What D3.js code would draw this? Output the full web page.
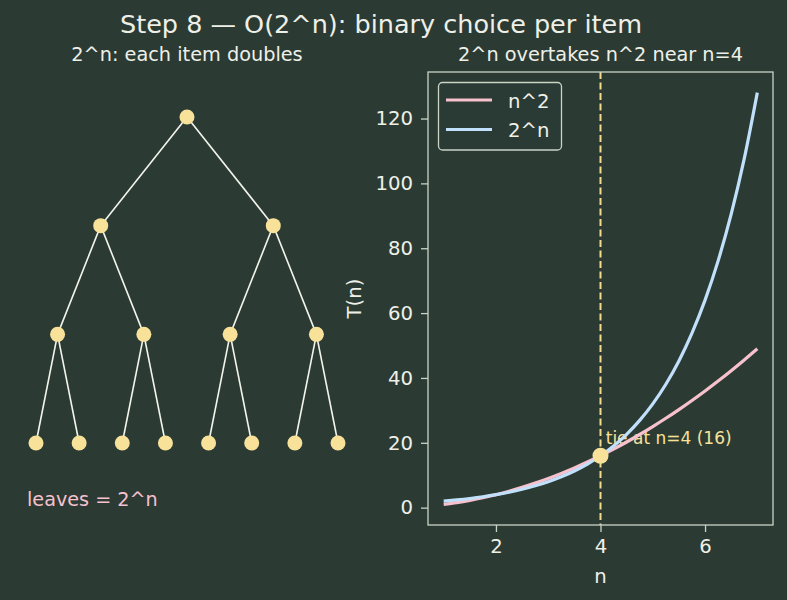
<!DOCTYPE html>
<html><head><meta charset="utf-8">
<script src="https://cdn.jsdelivr.net/npm/d3@7"></script>
<style>
html,body{margin:0;padding:0;background:#2b3b34;}
svg{display:block;font-family:"DejaVu Sans",sans-serif;}
</style></head>
<body><svg id="c" width="787" height="600"></svg>
<script>
// ---- data ----
const title = "Step 8 \u2014 O(2^n): binary choice per item";
const leftTitle = "2^n: each item doubles";
const rightTitle = "2^n overtakes n^2 near n=4";
const nValues = [1,1.25,1.5,1.75,2,2.25,2.5,2.75,3,3.25,3.5,3.75,4,4.25,4.5,4.75,5,5.25,5.5,5.75,6,6.25,6.5,6.75,7];
const quadValues = [1,1.56,2.25,3.06,4,5.06,6.25,7.56,9,10.56,12.25,14.06,16,18.06,20.25,22.56,25,27.56,30.25,33.06,36,39.06,42.25,45.56,49];
const expValues = [2,2.38,2.83,3.36,4,4.76,5.66,6.73,8,9.51,11.31,13.45,16,19.03,22.63,26.91,32,38.06,45.25,53.82,64,76.11,90.51,107.63,128];
const seriesNames = ["n^2","2^n"];
const xTicks = [2,4,6];
const yTicks = [0,20,40,60,80,100,120];
const tieN = 4, tieValue = 16;
const tieLabel = "tie at n=4 (16)";
const leavesLabel = "leaves = 2^n";
// tree nodes: [position, depth]
const treeNodes = [[3.5,0],[1.5,1],[5.5,1],[0.5,2],[2.5,2],[4.5,2],[6.5,2],[0,3],[1,3],[2,3],[3,3],[4,3],[5,3],[6,3],[7,3]];
// edges as index pairs into treeNodes
const treeEdges = [[0,1],[0,2],[1,3],[1,4],[2,5],[2,6],[3,7],[3,8],[4,9],[4,10],[5,11],[5,12],[6,13],[6,14]];

// ---- style ----
const BG="#2b3b34", FG="#eef0e8", SPINE="#c9d3c6", PINK="#f7c1cd", BLUE="#c1e0fb", YEL="#f8e29a", DASH="#f3dc8c";

const svg = d3.select("#c");
svg.append("rect").attr("width",787).attr("height",600).attr("fill",BG);

svg.append("text").attr("x",381).attr("y",33).attr("text-anchor","middle")
  .attr("fill",FG).attr("font-size",25.5).text(title);

// ---- left: tree ----
svg.append("text").attr("x",187).attr("y",61).attr("text-anchor","middle")
  .attr("fill",FG).attr("font-size",19.3).text(leftTitle);
const tx = d3.scaleLinear().domain([0,7]).range([36,338]);
const ty = d3.scaleLinear().domain([0,3]).range([117,443]);
const gT = svg.append("g");
gT.selectAll("line").data(treeEdges).join("line")
  .attr("x1",d=>tx(treeNodes[d[0]][0])).attr("y1",d=>ty(treeNodes[d[0]][1]))
  .attr("x2",d=>tx(treeNodes[d[1]][0])).attr("y2",d=>ty(treeNodes[d[1]][1]))
  .attr("stroke","#f3f5ec").attr("stroke-width",1.6);
gT.selectAll("circle").data(treeNodes).join("circle")
  .attr("cx",d=>tx(d[0])).attr("cy",d=>ty(d[1])).attr("r",7.5).attr("fill",YEL);
svg.append("text").attr("x",27).attr("y",506).attr("fill",PINK).attr("font-size",19.2).text(leavesLabel);

// ---- right: chart ----
const L=428, R=773, T=72, B=525;
const xMin=d3.min(nValues), xMax=d3.max(nValues);
const yMin=d3.min(quadValues.concat(expValues)), yMax=d3.max(quadValues.concat(expValues));
const x = d3.scaleLinear().domain([xMin-(xMax-xMin)*0.05, xMax+(xMax-xMin)*0.05]).range([L,R]);
const y = d3.scaleLinear().domain([yMin-(yMax-yMin)*0.05, yMax+(yMax-yMin)*0.05]).range([B,T]);

svg.append("text").attr("x",(L+R)/2).attr("y",61).attr("text-anchor","middle")
  .attr("fill",FG).attr("font-size",19.3).text(rightTitle);

const defs = svg.append("defs");
defs.append("clipPath").attr("id","clip").append("rect").attr("x",L).attr("y",T).attr("width",R-L).attr("height",B-T);

const gx = svg.append("g").attr("transform",`translate(0,${B})`)
  .call(d3.axisBottom(x).tickValues(xTicks).tickSize(7).tickPadding(6).tickFormat(d3.format("d")));
const gy = svg.append("g").attr("transform",`translate(${L},0)`)
  .call(d3.axisLeft(y).tickValues(yTicks).tickSize(7).tickPadding(8).tickFormat(d3.format("d")));
[gx,gy].forEach(g=>{
  g.select(".domain").remove();
  g.selectAll(".tick line").attr("stroke",SPINE).attr("stroke-width",1.3);
  g.selectAll(".tick text").attr("fill",FG).attr("font-size",19.7).attr("font-family","DejaVu Sans");
});
gx.selectAll(".tick text").attr("dy","0.78em");
svg.append("text").attr("x",(L+R)/2).attr("y",583).attr("text-anchor","middle").attr("fill",FG).attr("font-size",19.7).text("n");
svg.append("text").attr("transform",`translate(361,${(T+B)/2}) rotate(-90)`).attr("text-anchor","middle").attr("fill",FG).attr("font-size",19.7).text("T(n)");

const plot = svg.append("g").attr("clip-path","url(#clip)");
plot.append("line").attr("x1",x(tieN)).attr("x2",x(tieN)).attr("y1",T).attr("y2",B)
  .attr("stroke",DASH).attr("stroke-width",2).attr("stroke-dasharray","7,3.5");
plot.append("text").attr("x",x(tieN+0.1)).attr("y",y(20)+1).attr("fill",YEL).attr("font-size",17).text(tieLabel);
const line = d3.line().x(d=>x(d[0])).y(d=>y(d[1])).curve(d3.curveMonotoneX);
plot.append("path").datum(nValues.map((n,i)=>[n,quadValues[i]])).attr("d",line)
  .attr("fill","none").attr("stroke",PINK).attr("stroke-width",3.2);
plot.append("path").datum(nValues.map((n,i)=>[n,expValues[i]])).attr("d",line)
  .attr("fill","none").attr("stroke",BLUE).attr("stroke-width",3.2);
plot.append("circle").attr("cx",x(tieN)).attr("cy",y(tieValue)).attr("r",8).attr("fill",YEL);

svg.append("rect").attr("x",L).attr("y",T).attr("width",R-L).attr("height",B-T)
  .attr("fill","none").attr("stroke",SPINE).attr("stroke-width",1.3);

// legend
const lg = svg.append("g");
lg.append("rect").attr("x",438.5).attr("y",82.5).attr("width",123).attr("height",67.5).attr("rx",4)
  .attr("fill",BG).attr("fill-opacity",0.8).attr("stroke",SPINE).attr("stroke-width",1.3);
[PINK,BLUE].forEach((c,i)=>{
  const yy = 100 + i*29.5;
  lg.append("line").attr("x1",446).attr("x2",492).attr("y1",yy).attr("y2",yy).attr("stroke",c).attr("stroke-width",3.2);
  lg.append("text").attr("x",508).attr("y",yy+7.5).attr("fill",FG).attr("font-size",19.7).text(seriesNames[i]);
});
</script></body></html>
